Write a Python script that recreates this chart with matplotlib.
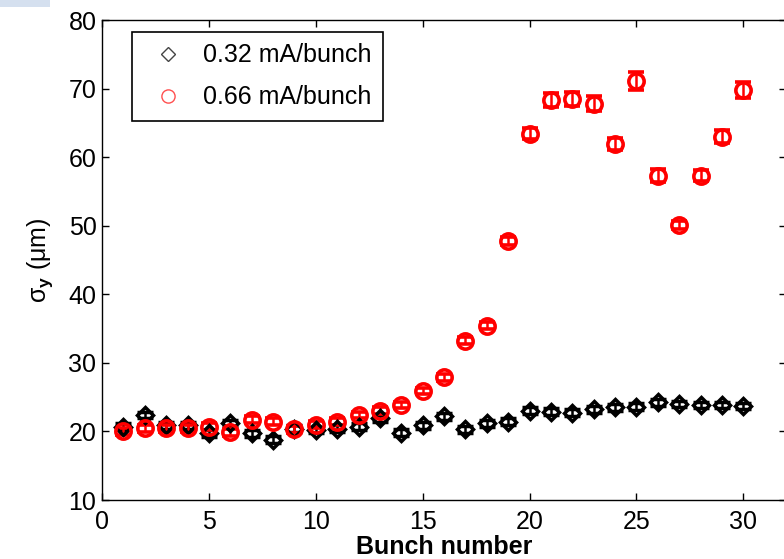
import matplotlib
matplotlib.use("Agg")
import matplotlib.pyplot as plt
from matplotlib.lines import Line2D
from matplotlib.patches import Rectangle

plt.rcParams['font.family'] = ['Liberation Sans', 'DejaVu Sans']
plt.rcParams['mathtext.fontset'] = 'custom'
plt.rcParams['mathtext.rm'] = 'Liberation Sans'
plt.rcParams['mathtext.it'] = 'Liberation Sans:italic'
plt.rcParams['mathtext.bf'] = 'Liberation Sans:bold'

# Vertical beam size per bunch for two bunch currents
bunch = list(range(1, 31))
sigma_low = [20.7, 22.4, 20.9, 20.9, 19.7, 21.2, 19.7, 18.8, 20.4, 20.2,
             20.4, 20.7, 21.9, 19.8, 20.9, 22.2, 20.3, 21.2, 21.4, 23.0,
             22.9, 22.75, 23.2, 23.5, 23.6, 24.25, 24.0, 23.85, 23.85, 23.7]
err_low = [0.5] * 30
sigma_high = [20.0, 20.45, 20.45, 20.45, 20.7, 19.9, 21.7, 21.4, 20.3, 21.0,
              21.4, 22.4, 23.0, 23.85, 25.9, 27.9, 33.2, 35.4, 47.8, 63.4,
              68.3, 68.5, 67.8, 61.9, 71.1, 57.3, 50.1, 57.3, 63.0, 69.8]
err_high = [0.5, 0.5, 0.5, 0.5, 0.5, 0.5, 0.5, 0.5, 0.5, 0.5,
            0.5, 0.5, 0.5, 0.5, 0.5, 0.5, 0.5, 0.5, 0.6, 0.8,
            1.0, 1.0, 1.1, 0.9, 1.3, 0.9, 0.6, 0.8, 0.9, 1.2]
labels = ['0.32 mA/bunch', '0.66 mA/bunch']

fig = plt.figure(figsize=(7.84, 5.59), dpi=100)
fig.patches.append(Rectangle((0, 1 - 7 / 559), 50 / 784, 7 / 559,
                             transform=fig.transFigure, facecolor='#d5e0ef',
                             edgecolor='none'))
ax = fig.add_axes([102 / 784, 59 / 559, 684 / 784, 480 / 559])

ax.errorbar(bunch, sigma_low, yerr=err_low, fmt='D', color='black',
            markerfacecolor='none', markeredgewidth=2.5, markersize=8.5,
            elinewidth=1.8, capsize=5.5, capthick=1.8)
ax.errorbar(bunch, sigma_high, yerr=err_high, fmt='o', color='red',
            markerfacecolor='none', markeredgewidth=2.6, markersize=11,
            elinewidth=1.8, capsize=5.5, capthick=1.8)

ax.set_xlim(0, 32)
ax.set_ylim(10, 80)
ax.set_xticks(range(0, 31, 5))
ax.set_yticks(range(10, 81, 10))
ax.tick_params(direction='in', length=5, width=1.0, top=True, right=True,
               labelsize=18, colors='black')
ax.tick_params(axis='x', pad=7)
ax.tick_params(axis='y', pad=4)
for sp in ax.spines.values():
    sp.set_linewidth(1.0)

ax.set_xlabel('Bunch number', fontsize=18, fontweight='bold', labelpad=1)
ax.set_ylabel(r'σ$_{\mathbf{y}}$ (μm)', fontsize=18, labelpad=10)

handles = [Line2D([], [], linestyle='none', marker='D', markersize=7,
                  markerfacecolor='none', markeredgecolor='#444444',
                  markeredgewidth=1.0),
           Line2D([], [], linestyle='none', marker='o', markersize=9.5,
                  markerfacecolor='none', markeredgecolor='#ff5050',
                  markeredgewidth=1.0)]
leg = ax.legend(handles, labels, loc='upper left',
                bbox_to_anchor=(30 / 684, 468 / 480), borderaxespad=0,
                fontsize=18, frameon=True, fancybox=False, framealpha=1,
                edgecolor='black', borderpad=0.45, labelspacing=0.72,
                handlelength=2.0, handletextpad=0.4)
leg.get_frame().set_linewidth(1.2)

fig.savefig('out.png', dpi=100)
